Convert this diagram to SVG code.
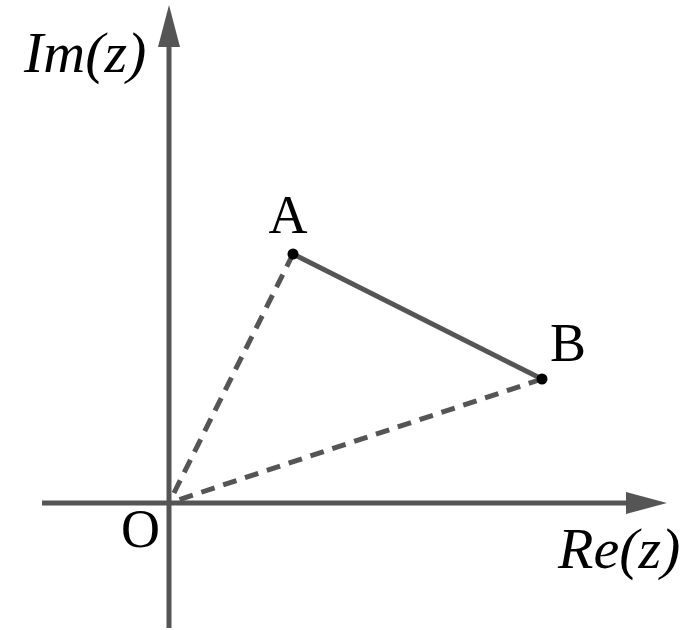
<svg xmlns="http://www.w3.org/2000/svg" width="697" height="630" viewBox="0 0 697 630">
<style>
.axis{stroke:#555;stroke-width:5;fill:none}
.seg{stroke:#555;stroke-width:5;fill:none}
.dash{stroke:#555;stroke-width:5;fill:none;stroke-dasharray:14 9}
.lbl{font-family:"Liberation Serif",serif;font-size:54px;fill:#000}
.it{font-style:italic;font-size:58px}
.head{fill:#555}
.pt{fill:#000}
</style>
<rect width="697" height="630" fill="#fff"/>
<g id="connectors">
<line class="axis" x1="169" y1="628" x2="169" y2="44"/>
<polygon class="head" points="169,5 158,47 180,47"/>
<line class="axis" x1="42" y1="503" x2="630" y2="503"/>
<polygon class="head" points="667,503 626,492 626,514"/>
<line class="dash" x1="293" y1="254" x2="169" y2="503"/>
<line class="dash" x1="542" y1="379" x2="169" y2="503"/>
<line class="seg" x1="293" y1="254" x2="542" y2="379"/>
</g>
<g id="A"><circle class="pt" cx="293" cy="254" r="5.5"/><text class="lbl" x="288" y="233" text-anchor="middle">A</text></g>
<g id="B"><circle class="pt" cx="542" cy="379" r="5.5"/><text class="lbl" x="550" y="361">B</text></g>
<g id="O"><text class="lbl" x="121" y="547">O</text></g>
<g id="Im"><text class="lbl it" x="24" y="72">Im(z)</text></g>
<g id="Re"><text class="lbl it" x="558" y="568">Re(z)</text></g>
</svg>
